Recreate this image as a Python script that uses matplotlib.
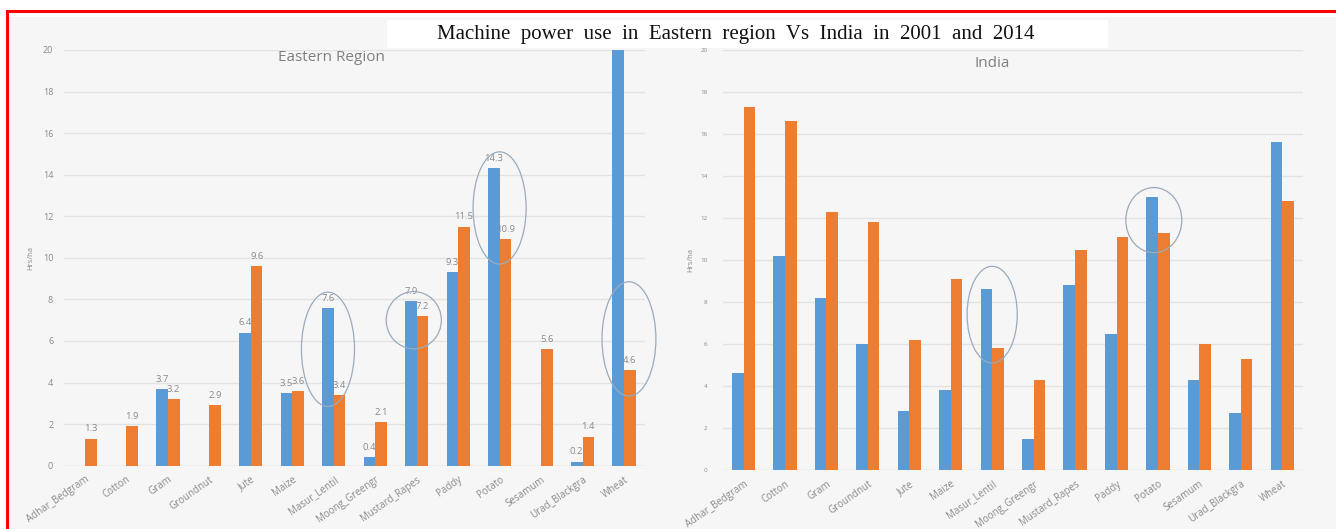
import matplotlib
matplotlib.use("Agg")
import matplotlib.pyplot as plt
from matplotlib.patches import Rectangle, Ellipse
import numpy as np

# ---- data -------------------------------------------------------------
crops = ["Adhar_Bedgram", "Cotton", "Gram", "Groundnut", "Jute", "Maize",
         "Masur_Lentil", "Moong_Greengr", "Mustard_Rapes", "Paddy", "Potato",
         "Sesamum", "Urad_Blackgra", "Wheat"]

eastern_2001 = [0, 0, 3.7, 0, 6.4, 3.5, 7.6, 0.4, 7.9, 9.3, 14.3, 0, 0.2, 20.0]
eastern_2014 = [1.3, 1.9, 3.2, 2.9, 9.6, 3.6, 3.4, 2.1, 7.2, 11.5, 10.9, 5.6, 1.4, 4.6]

india_2001 = [4.6, 10.2, 8.2, 6.0, 2.8, 3.8, 8.6, 1.5, 8.8, 6.5, 13.0, 4.3, 2.7, 15.6]
india_2014 = [17.3, 16.6, 12.3, 11.8, 6.2, 9.1, 5.8, 4.3, 10.5, 11.1, 11.3, 6.0, 5.3, 12.8]

y_ticks = list(range(0, 21, 2))

# highlight rings: (crop, x shift in categories, y centre, width, height)
eastern_rings = [("Masur_Lentil", -0.14, 5.6, 1.28, 5.5),
                 ("Mustard_Rapes", -0.07, 7.0, 1.33, 2.75),
                 ("Potato", 0.0, 12.4, 1.28, 5.4),
                 ("Wheat", 0.12, 6.1, 1.30, 5.5)]
india_rings = [("Masur_Lentil", 0.0, 7.4, 1.21, 4.6),
               ("Potato", -0.10, 11.9, 1.35, 3.1)]

title = "Machine  power  use  in  Eastern  region  Vs  India  in  2001  and  2014"

# ---- styling ----------------------------------------------------------
W, H = 1336, 529
BLUE = "#5b9bd5"
ORANGE = "#ed7d31"
GRID = "#e3e3e3"
TXT = "#8a8a8a"
RING = "#9aabbb"
BG = "#f6f6f6"
plt.rcParams["font.family"] = ["Open Sans", "DejaVu Sans"]

fig = plt.figure(figsize=(W / 100, H / 100), dpi=100)
fig.patch.set_facecolor("white")


def px_axes(x0, y_top, x1, y_bot):
    return fig.add_axes([x0 / W, 1 - y_bot / H, (x1 - x0) / W, (y_bot - y_top) / H])


# gray page inside the red frame
fig.patches.append(Rectangle((8 / W, 0), 1, 1 - 17 / H, transform=fig.transFigure,
                             facecolor=BG, edgecolor="none", zorder=-5))
# red frame (left and top edges visible)
fig.add_artist(plt.Line2D([7 / W, 7 / W], [0, 1 - 11 / H], color="#ff0000", lw=2.2,
                          transform=fig.transFigure, zorder=20))
fig.add_artist(plt.Line2D([7 / W, 1], [1 - 11 / H, 1 - 11 / H], color="#ff0000", lw=2.2,
                          transform=fig.transFigure, zorder=20))


def panel(ax, s1, s2, name, title_x, title_y, title_fs, rings, tick_fs, tick_pad,
          label_values, label_x):
    x = np.arange(len(crops))
    w = 0.28
    b1 = ax.bar(x - w / 2, s1, w, color=BLUE, zorder=3)
    b2 = ax.bar(x + w / 2, s2, w, color=ORANGE, zorder=3)
    ax.set_xlim(-0.5, len(crops) - 0.5)
    ax.set_ylim(0, 20)
    ax.set_facecolor("none")
    for s in ax.spines.values():
        s.set_visible(False)
    ax.set_yticks(y_ticks)
    ax.grid(axis="y", color=GRID, lw=1.0, zorder=0)
    ax.axhline(0, color="#e6e6e6", lw=1.0, zorder=2)
    ax.tick_params(axis="y", length=0, colors=TXT, labelsize=tick_fs, pad=tick_pad)
    ax.set_xticks(x)
    ax.set_xticklabels(crops, rotation=35, ha="right", rotation_mode="anchor",
                       fontsize=7, color=TXT)
    ax.tick_params(axis="x", length=0, pad=6)
    ax.set_ylabel("Hrs/ha", fontsize=5.5, color=TXT, labelpad=label_x)
    ax.text(title_x, title_y, name, transform=ax.transAxes, fontsize=title_fs,
            color="#7f7f7f", ha="center", va="center")
    if label_values:
        for bars, vals in ((b1, s1), (b2, s2)):
            for r, v in zip(bars, vals):
                if 0 < v < 20:
                    ax.text(r.get_x() + r.get_width() / 2, v + 0.25, f"{v:.1f}",
                            ha="center", va="bottom", fontsize=6.8, color=TXT, zorder=4)
    for crop, dx, cy, ew, eh in rings:
        i = crops.index(crop)
        ax.add_patch(Ellipse((i + dx, cy), ew, eh, fill=False, edgecolor=RING,
                             lw=0.9, zorder=5, clip_on=False))


ax1 = px_axes(64.3, 50, 644.7, 465.7)
panel(ax1, eastern_2001, eastern_2014, "Eastern Region", 0.46, 0.981, 11,
      eastern_rings, 6.5, 8, True, 6)

ax2 = px_axes(722.8, 50, 1303, 470)
panel(ax2, india_2001, india_2014, "India", 0.464, 0.969, 11,
      india_rings, 4.5, 11, False, 4)

# heading box
fig.patches.append(Rectangle((387 / W, 1 - 48 / H), (1108 - 387) / W, 28 / H,
                             transform=fig.transFigure, facecolor="white",
                             edgecolor="none", zorder=10))
fig.text(736 / W, 1 - 34 / H, title, family="Liberation Serif", fontsize=15,
         ha="center", va="center", color="#111111", zorder=11)

fig.savefig("out.png", dpi=100)
